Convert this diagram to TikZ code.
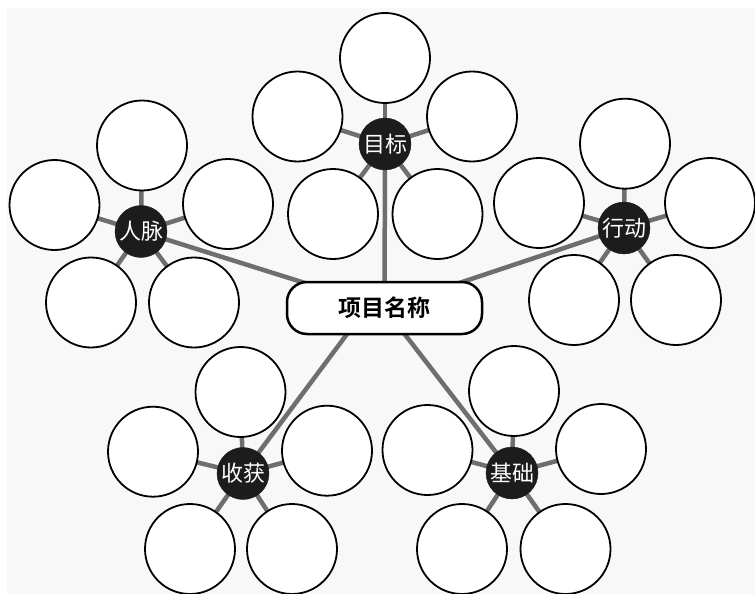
\documentclass[tikz,border=0pt]{standalone}
\usepackage{fontspec}
\newfontfamily\cjk{Noto Sans CJK SC}[BoldFont={Noto Sans CJK SC Bold}]
\pgfdeclarelayer{bg}
\pgfdeclarelayer{lines}
\pgfsetlayers{bg,lines,main}
\tikzset{
  sat/.style={circle, draw=black, line width=1.8pt, fill=white, minimum size=90pt, inner sep=0pt},
  hub/.style={circle, fill=hubcol, draw=hubcol, minimum size=52pt, inner sep=0pt, text=white, font=\cjk\fontsize{22}{22}\selectfont},
  mainbox/.style={draw=black, line width=2.5pt, fill=white, rounded corners=20pt, minimum width=195pt, minimum height=52pt, inner sep=0pt, font=\cjk\bfseries\fontsize{23}{23}\selectfont},
  link/.style={draw=linkcol, line width=4.5pt},
  spoke/.style={draw=linkcol, line width=4.5pt}
}
\definecolor{hubcol}{HTML}{1C1C1C}
\definecolor{linkcol}{HTML}{6E6E6E}
\definecolor{paper}{HTML}{F8F8F8}
\begin{document}
\begin{tikzpicture}[x=1pt, y=-1pt]
\useasboundingbox (0,0) rectangle (755,594);
\begin{pgfonlayer}{bg}
  \fill[white] (0,0) rectangle (755,594);
  \fill[paper] (7,8) rectangle (755,594);
\end{pgfonlayer}

\node[mainbox] (box) at (384.5,308) {项目名称};

% hubs
\node[hub] (G) at (385,144) {目标};
\node[hub] (R) at (141,231.5) {人脉};
\node[hub] (X) at (624,228) {行动};
\node[hub] (S) at (243,473.5) {收获};
\node[hub] (J) at (512,473) {基础};

% satellites of 目标
\node[sat] (G1) at (385,58) {};
\node[sat] (G2) at (297.5,116.5) {};
\node[sat] (G3) at (472,116.5) {};
\node[sat] (G4) at (333,214) {};
\node[sat] (G5) at (437.5,214) {};
% satellites of 人脉
\node[sat] (R1) at (142,145.5) {};
\node[sat] (R2) at (54.5,205) {};
\node[sat] (R3) at (228,204) {};
\node[sat] (R4) at (91,302.5) {};
\node[sat] (R5) at (194,302.5) {};
% satellites of 行动
\node[sat] (X1) at (625,143.7) {};
\node[sat] (X2) at (710,203) {};
\node[sat] (X3) at (539,203) {};
\node[sat] (X4) at (574,300) {};
\node[sat] (X5) at (676,300) {};
% satellites of 收获
\node[sat] (S1) at (240.5,392) {};
\node[sat] (S2) at (153,451.7) {};
\node[sat] (S3) at (327,450.7) {};
\node[sat] (S4) at (190,549) {};
\node[sat] (S5) at (292,549) {};
% satellites of 基础
\node[sat] (J1) at (514,391) {};
\node[sat] (J2) at (427.5,450) {};
\node[sat] (J3) at (601,449) {};
\node[sat] (J4) at (462,549) {};
\node[sat] (J5) at (565.5,549) {};

\begin{pgfonlayer}{lines}
  \draw[link] (box.center) -- (G.center);
  \draw[link] (box.center) -- (R.center);
  \draw[link] (box.center) -- (X.center);
  \draw[link] ([xshift=-18pt]box.center) -- (S.center);
  \draw[link] (box.center) -- (J.center);
  \foreach \h in {G,R,X,S,J}{
    \foreach \i in {1,...,5}{
      \draw[spoke] (\h.center) -- (\h\i.center);
    }
  }
\end{pgfonlayer}
\end{tikzpicture}
\end{document}
